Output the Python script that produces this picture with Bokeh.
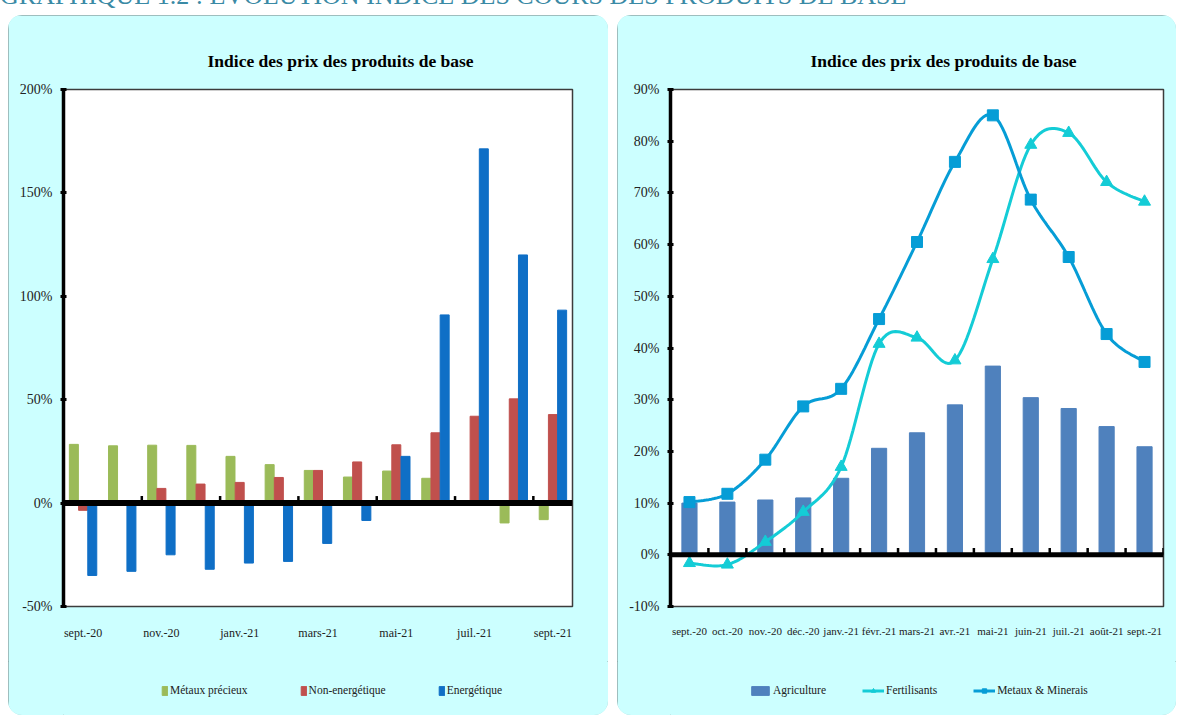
import numpy as np
from bokeh.plotting import figure
from bokeh.models import (Span, Legend, LegendItem, FixedTicker, PrintfTickFormatter,
                          Div, Range1d)
from bokeh.layouts import row, column
from bokeh.embed import file_html
from bokeh.resources import INLINE

# ---------------- data ----------------
months = ["sept.-20", "oct.-20", "nov.-20", "déc.-20", "janv.-21", "févr.-21", "mars-21",
          "avr.-21", "mai-21", "juin-21", "juil.-21", "août-21", "sept.-21"]
left_labelled_months = ["sept.-20", "nov.-20", "janv.-21", "mars-21", "mai-21", "juil.-21", "sept.-21"]

metaux_precieux = [28.4, 27.7, 28.0, 27.9, 22.6, 18.6, 15.8, 12.6, 15.5, 12.0, 0.4, -9.6, -8.0]
non_energetique = [-3.5, 0.0, 7.1, 9.2, 10.0, 12.4, 15.8, 19.9, 28.2, 34.0, 42.0, 50.4, 42.8]
energetique = [-35.0, -33.0, -25.0, -32.0, -29.0, -28.2, -19.5, -8.4, 22.6, 91.0, 171.3, 120.0, 93.3]

agriculture = [10.0, 10.2, 10.6, 11.0, 14.8, 20.6, 23.6, 29.0, 36.5, 30.4, 28.3, 24.8, 20.9]
fertilisants = [-1.6, -1.9, 2.5, 8.3, 17.0, 40.8, 42.0, 37.6, 57.2, 79.3, 81.6, 72.1, 68.3]
metaux_minerais = [10.2, 11.8, 18.4, 28.7, 32.1, 45.6, 60.5, 76.0, 85.0, 68.7, 57.6, 42.7, 37.3]

title_text = "Indice des prix des produits de base"
header_text = "GRAPHIQUE 1.2 : EVOLUTION INDICE DES COURS DES PRODUITS DE BASE"

FONT = "Liberation Serif"
PANEL = "#CCFFFF"

C_MP, C_NE, C_EN = "#9BBB59", "#C0504D", "#0F6FC6"
C_AG, C_FE, C_MM = "#4F81BD", "#14CCD6", "#069DD6"

n = len(months)
centers = np.arange(n) + 0.5


def smooth(xs, ys, steps=16):
    """Excel-like smoothed line (cubic Bezier / Catmull-Rom) through the data points."""
    xs = np.asarray(xs, float)
    ys = np.asarray(ys, float)
    P = np.column_stack([xs, ys])
    out = [P[0]]
    for i in range(len(P) - 1):
        p0 = P[i - 1] if i > 0 else P[i]
        p1 = P[i]
        p2 = P[i + 1]
        p3 = P[i + 2] if i + 2 < len(P) else P[i + 1]
        c1 = p1 + (p2 - p0) / 6.0
        c2 = p2 - (p3 - p1) / 6.0
        t = np.linspace(0, 1, steps + 1)[1:][:, None]
        seg = ((1 - t) ** 3) * p1 + 3 * ((1 - t) ** 2) * t * c1 + 3 * (1 - t) * t ** 2 * c2 + t ** 3 * p2
        out.extend(seg)
    out = np.array(out)
    return out[:, 0], out[:, 1]


PANEL_STYLES = {"border-radius": "14px", "overflow": "hidden", "background-color": PANEL,
                "outline": "1px solid #8FA9A9", "outline-offset": "-1px"}

CHART_H = 646
LEG_H = 54


def make_fig(width, frame_w, yr, bl, br):
    return figure(width=width, height=CHART_H, frame_width=frame_w, frame_height=517,
                  x_range=Range1d(0, n), y_range=Range1d(*yr),
                  output_backend="svg", toolbar_location=None,
                  min_border_left=bl, min_border_right=br, min_border_top=74,
                  min_border_bottom=CHART_H - 74 - 517,
                  background_fill_color="white", border_fill_color=PANEL)


def make_legend_fig(width):
    # legend strip below a chart; its ranges lie away from the data, so the key
    # renderers (which repeat the chart series) only show up as legend keys
    q = figure(width=width, height=LEG_H, frame_width=width, frame_height=LEG_H,
               x_range=Range1d(-30, -20), y_range=Range1d(-30, -20),
               x_axis_type=None, y_axis_type=None,
               output_backend="svg", toolbar_location=None,
               min_border=0, min_border_left=0, min_border_right=0,
               min_border_top=0, min_border_bottom=0,
               background_fill_color=PANEL, border_fill_color=PANEL)
    q.outline_line_color = None
    q.xgrid.visible = False
    q.ygrid.visible = False
    return q


def style_common(p, yticks, zero_w, tick_pos, tick_len, label_px, title_off, standoff):
    p.title.text = title_text
    p.title.align = "left"
    p.title.text_font = FONT
    p.title.text_font_size = "17.5px"
    p.title.text_font_style = "bold"
    p.title.text_color = "black"
    p.title.offset = title_off
    p.title.standoff = 37
    p.xgrid.visible = False
    p.ygrid.visible = False
    p.outline_line_color = "#3c3c3c"
    p.outline_line_width = 1.5
    ya = p.yaxis[0]
    ya.ticker = FixedTicker(ticks=yticks)
    ya.formatter = PrintfTickFormatter(format="%d%%")
    ya.axis_line_width = 3.5
    ya.axis_line_color = "black"
    ya.major_tick_in = 3
    ya.major_tick_out = 3
    ya.major_tick_line_width = 3
    ya.minor_tick_line_color = None
    ya.major_label_text_font = FONT
    ya.major_label_text_font_size = "14px"
    ya.major_label_text_color = "#222222"
    ya.major_label_standoff = 8
    xa = p.xaxis[0]
    xa.axis_line_color = None
    xa.major_tick_line_color = None
    xa.minor_tick_line_color = None
    xa.major_label_text_font = FONT
    xa.major_label_text_font_size = label_px
    xa.major_label_text_color = "#222222"
    xa.major_label_standoff = standoff
    p.add_layout(Span(location=0, dimension="width", line_color="black", line_width=zero_w))
    p.segment(x0=tick_pos, y0=[0] * len(tick_pos), x1=tick_pos, y1=[tick_len] * len(tick_pos),
              line_color="black", line_width=2.5)


def make_legend(items, gw, spacing, loc):
    return Legend(items=items, orientation="horizontal", location=loc,
                  border_line_color=None, background_fill_alpha=0,
                  label_text_font=FONT, label_text_font_size="11.5px", label_text_color="#222222",
                  glyph_width=gw, glyph_height=11, label_standoff=2, spacing=spacing,
                  padding=0, margin=0, label_height=12)


# ---------------- left chart ----------------
p1 = make_fig(600, 509, (-50, 200), 55, 36)
bw = 0.23
p1.vbar(x=centers - 0.235, top=metaux_precieux, width=bw, fill_color=C_MP, line_color=C_MP)
p1.vbar(x=centers, top=non_energetique, width=bw, fill_color=C_NE, line_color=C_NE)
p1.vbar(x=centers + 0.235, top=energetique, width=bw, fill_color=C_EN, line_color=C_EN)

left_ticks = [float(centers[months.index(m)]) for m in left_labelled_months]
style_common(p1, [-50, 0, 50, 100, 150, 200], 6, [2, 4, 6, 8, 10, 12], 3.4, "12px", 144, 13)
p1.xaxis[0].ticker = FixedTicker(ticks=left_ticks)
p1.xaxis[0].major_label_overrides = {t: m for t, m in zip(left_ticks, left_labelled_months)}

l1 = make_legend_fig(600)
k_mp = l1.vbar(x=centers, top=metaux_precieux, width=bw, fill_color=C_MP, line_color=C_MP)
k_ne = l1.vbar(x=centers, top=non_energetique, width=bw, fill_color=C_NE, line_color=C_NE)
k_en = l1.vbar(x=centers, top=energetique, width=bw, fill_color=C_EN, line_color=C_EN)
l1.add_layout(make_legend([LegendItem(label="Métaux précieux", renderers=[k_mp]),
                           LegendItem(label="Non-energétique", renderers=[k_ne]),
                           LegendItem(label="Energétique", renderers=[k_en])],
                          7, 52, (153, 19)))

# ---------------- right chart ----------------
p2 = make_fig(559, 493, (-10, 90), 53, 13)
p2.vbar(x=centers, top=agriculture, width=0.4, fill_color=C_AG, line_color=C_AG)

fx, fy = smooth(centers, fertilisants)
p2.line(fx, fy, line_color=C_FE, line_width=3)
p2.scatter(centers, fertilisants, marker="triangle", size=12, fill_color=C_FE, line_color=C_FE)
mx, my = smooth(centers, metaux_minerais)
p2.line(mx, my, line_color=C_MM, line_width=3)
p2.scatter(centers, metaux_minerais, marker="square", size=11, fill_color=C_MM, line_color=C_MM)

style_common(p2, list(range(-10, 91, 10)), 5, list(range(1, n + 1)), 1.3, "11px", 140, 12)
p2.xaxis[0].ticker = FixedTicker(ticks=[float(c) for c in centers])
p2.xaxis[0].major_label_overrides = {float(c): m for c, m in zip(centers, months)}

l2 = make_legend_fig(559)
k_ag = l2.vbar(x=centers, top=agriculture, width=0.4, fill_color=C_AG, line_color=C_AG)
k_fl = l2.line(centers, fertilisants, line_color=C_FE, line_width=3)
k_fs = l2.scatter(centers, fertilisants, marker="triangle", size=12, fill_color=C_FE, line_color=C_FE)
k_ml = l2.line(centers, metaux_minerais, line_color=C_MM, line_width=3)
k_ms = l2.scatter(centers, metaux_minerais, marker="square", size=11, fill_color=C_MM, line_color=C_MM)
l2.add_layout(make_legend([LegendItem(label="Agriculture", renderers=[k_ag]),
                           LegendItem(label="Fertilisants", renderers=[k_fl, k_fs]),
                           LegendItem(label="Metaux & Minerais", renderers=[k_ml, k_ms])],
                          22, 36, (132, 19)))

header = Div(text=('<div style="margin-top:-16px;position:relative;top:-8px;'
                   'font-family:\'Liberation Serif\';font-size:26px;'
                   'line-height:26px;color:#3A8AA5;white-space:nowrap;">' + header_text + '</div>'),
             width=1184, height=15, margin=(0, 0, 0, 0), styles={"overflow": "hidden"})

panel1 = column(p1, l1, spacing=0, styles=PANEL_STYLES)
panel2 = column(p2, l2, spacing=0, styles=PANEL_STYLES)
charts = row(panel1, panel2, spacing=9, margin=(0, 0, 0, 8))
layout = column(header, charts, spacing=0, margin=(0, 0, 0, 0))

open("out.html", "w").write(file_html(layout, INLINE))
